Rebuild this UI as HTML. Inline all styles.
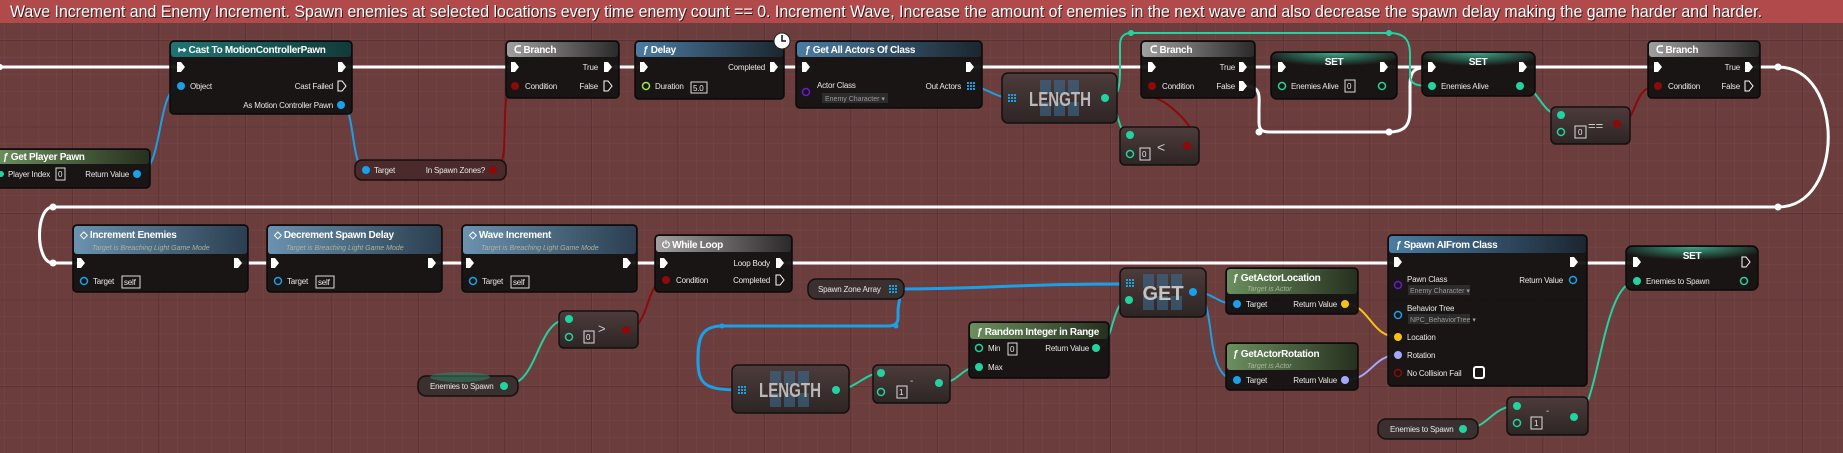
<!DOCTYPE html>
<html><head><meta charset="utf-8"><style>
html,body{margin:0;padding:0;background:#6b3d3d;overflow:hidden}
svg{display:block}
text{font-family:"Liberation Sans",sans-serif;fill:#e8e8e8}
.h{font-size:10px;font-weight:bold;fill:#fff;letter-spacing:-0.3px}
.l{font-size:8px;letter-spacing:-0.2px}
.s{font-size:7px;font-style:italic;fill:#a9b49a}
.r{text-anchor:end}
.b{fill:#151312;fill-opacity:.95;stroke:#0a0a0a;stroke-width:1.5}
.p{fill:url(#pure);stroke:#141010;stroke-width:1.5}
.bx{fill:none;stroke:#ddd;stroke-width:1}
.ex{fill:none;stroke:#fff;stroke-width:3}
.w{fill:none;stroke-width:2}
</style></head><body>
<svg width="1843" height="453" viewBox="0 0 1843 453" xmlns="http://www.w3.org/2000/svg">
<defs>
<pattern id="minor" width="17.3" height="17.3" patternUnits="userSpaceOnUse" x="4" y="5">
<path d="M0 0H17.3M0 0V17.3" stroke="#774848" stroke-width="1" fill="none"/></pattern>
<pattern id="major" width="86.5" height="86.5" patternUnits="userSpaceOnUse" x="72" y="40">
<path d="M0 0H86.5M0 0V86.5" stroke="#583030" stroke-width="1.5" fill="none"/></pattern>
<linearGradient id="gBlue"><stop offset="0" stop-color="#4b7ca3"/><stop offset="1" stop-color="#1b2630"/></linearGradient>
<linearGradient id="gGreen"><stop offset="0" stop-color="#6b8f5e"/><stop offset="1" stop-color="#26301f"/></linearGradient>
<linearGradient id="gGrey"><stop offset="0" stop-color="#a0a0a0"/><stop offset="1" stop-color="#2a2a2a"/></linearGradient>
<linearGradient id="gTeal"><stop offset="0" stop-color="#1f7474"/><stop offset="1" stop-color="#123a3a"/></linearGradient>
<linearGradient id="gEvent"><stop offset="0" stop-color="#6b92b0"/><stop offset="1" stop-color="#2b3f50"/></linearGradient>
<linearGradient id="pure" x1="0" y1="0" x2="0" y2="1"><stop offset="0" stop-color="#4d3c3b"/><stop offset="1" stop-color="#2d2524"/></linearGradient>
<radialGradient id="glow" cx=".5" cy="0" r=".6"><stop offset="0" stop-color="#3aa585"/><stop offset="1" stop-color="#3aa585" stop-opacity="0"/></radialGradient>
<path id="ex" d="M-4,-5h4l4,5l-4,5h-4z" fill="#fff"/>
<path id="exh" d="M-4,-5h4l4,5l-4,5h-4z" fill="none" stroke="#fff" stroke-width="1"/>
<g id="grid" fill="#1a9fe0"><rect x="-3" y="-4" width="2" height="2"/><rect x="0" y="-4" width="2" height="2"/><rect x="3" y="-4" width="2" height="2"/><rect x="-3" y="-1" width="2" height="2"/><rect x="0" y="-1" width="2" height="2"/><rect x="3" y="-1" width="2" height="2"/><rect x="-3" y="2" width="2" height="2"/><rect x="0" y="2" width="2" height="2"/><rect x="3" y="2" width="2" height="2"/></g>
<g id="bg" fill="#3d6f96" fill-opacity=".55"><rect x="-20" y="-18" width="11" height="14"/><rect x="-6" y="-18" width="11" height="14"/><rect x="8" y="-18" width="11" height="14"/><rect x="-20" y="4" width="11" height="14"/><rect x="-6" y="4" width="11" height="14"/><rect x="8" y="4" width="11" height="14"/></g>
</defs>
<rect width="1843" height="453" fill="#6b3d3d"/>
<rect width="1843" height="453" fill="url(#minor)"/>
<rect width="1843" height="453" fill="url(#major)"/>
<rect width="1843" height="23" fill="#b14b4b"/>
<text x="11" y="18" style="font-size:17px;fill:#3a1a1a" textLength="1752" lengthAdjust="spacingAndGlyphs">Wave Increment and Enemy Increment. Spawn enemies at selected locations every time enemy count == 0. Increment Wave, Increase the amount of enemies in the next wave and also decrease the spawn delay making the game harder and harder.</text>
<text x="10" y="17" style="font-size:17px;fill:#fff" textLength="1752" lengthAdjust="spacingAndGlyphs">Wave Increment and Enemy Increment. Spawn enemies at selected locations every time enemy count == 0. Increment Wave, Increase the amount of enemies in the next wave and also decrease the spawn delay making the game harder and harder.</text>

<g class="ex">
<path d="M0,67H181M342,67H515M608,67H644M774,67H806M970,67H1152M1243,67H1282M1384,67H1432M1523,67H1658"/>
<path d="M1749,67H1778C1845,67 1845,207 1778,207H53C35,207 35,263 53,263H81"/>
<path d="M1243,86C1262,86 1259,95 1259,110V122C1259,130 1262,132 1270,132H1389C1405,132 1410,125 1410,110V85C1410,70 1415,67 1432,67"/>
<path d="M238,263H275M432,263H470M627,263H664M780,263H1398M1574,263H1637"/>
</g>
<g fill="#fff"><circle cx="0" cy="67" r="3"/><circle cx="1778" cy="67" r="3.5"/><circle cx="1778" cy="207" r="3.5"/><circle cx="53" cy="207" r="3.5"/><circle cx="53" cy="263" r="3.5"/><circle cx="1259" cy="132" r="3.5"/><circle cx="1389" cy="132" r="3.5"/></g>
<g class="w" stroke="#1aa0e8">
<path d="M137,174C165,174 155,86 181,86"/><path d="M341,105C356,105 350,170 366,170"/>
<path d="M970,86C985,86 995,98 1011,98"/>
<path d="M892,289C1000,289 1000,284 1129,284" stroke-width="3"/>
<path d="M892,289C905,289 898,300 898,312V318C898,324 894,326 888,326H722C700,326 698,340 698,360C698,385 705,390 741,390" stroke-width="3"/>
<path d="M1193,292C1215,292 1215,304 1237,304"/><path d="M1193,292C1220,292 1200,380 1237,380"/>
</g>
<g class="w" stroke="#8c0a0a">
<path d="M493,170C515,170 495,86 515,86"/><path d="M1187,146C1210,146 1180,110 1160,100C1140,92 1140,86 1152,86"/>
<path d="M1617,124C1640,124 1630,86 1658,86"/><path d="M626,330C650,330 645,280 666,280"/>
</g>
<g class="w" stroke="#22d3a0">
<path d="M1105,98C1118,98 1120,90 1120,70V45C1120,36 1125,33 1131,33H1389C1405,33 1410,40 1410,55V75C1410,84 1415,86 1432,86"/>
<path d="M1105,98C1120,98 1115,135 1130,135"/><path d="M1520,86C1540,86 1540,115 1561,115"/>
<path d="M504,386C540,386 535,319 569,319"/><path d="M836,390C855,390 865,373 881,373"/>
<path d="M939,383C960,383 960,367 979,367"/><path d="M1096,348C1115,348 1110,300 1129,300"/>
<path d="M1574,417C1600,417 1600,281 1637,281"/><path d="M1463,429C1490,429 1490,406 1517,406"/>
</g>
<g fill="#22d3a0"><circle cx="1131" cy="33" r="3"/><circle cx="1389" cy="33" r="3"/></g>
<g fill="#1aa0e8"><circle cx="896" cy="326" r="2.5"/><circle cx="722" cy="326" r="2.5"/></g>
<path class="w" stroke="#f5c21a" d="M1345,304C1370,304 1370,337 1398,337"/>
<path class="w" stroke="#a3a8ff" d="M1345,380C1372,380 1372,355 1398,355"/>

<rect class="b" x="170" y="41" width="182" height="73" rx="4"/><rect x="171" y="42" width="180" height="15" rx="3" fill="url(#gTeal)"/>
<text class="h" x="178" y="53">↦ Cast To MotionControllerPawn</text>
<use href="#ex" x="181" y="67"/><use href="#ex" x="342" y="67"/>
<circle cx="181" cy="86" r="4" fill="#1aa0e8"/><text class="l" x="190" y="89">Object</text>
<text class="l r" x="333" y="89">Cast Failed</text><use href="#exh" x="342" y="86"/>
<text class="l r" x="333" y="108">As Motion Controller Pawn</text><circle cx="341" cy="105" r="4" fill="#1aa0e8"/>

<rect class="b" x="-4" y="149" width="154" height="39" rx="4"/><rect x="-3" y="150" width="152" height="14" rx="3" fill="url(#gGreen)"/>
<text class="h" x="3" y="160">ƒ Get Player Pawn</text>
<circle cx="1" cy="174" r="3" fill="#22d3a0"/><text class="l" x="8" y="177">Player Index</text>
<rect class="bx" x="56" y="168" width="9" height="12"/><text class="l" x="58" y="177">0</text>
<text class="l r" x="129" y="177">Return Value</text><circle cx="137" cy="174" r="4" fill="#1aa0e8"/>

<rect x="355" y="160" width="151" height="20" rx="7" fill="#4a2a2a" stroke="#1a0e0e" stroke-width="1.5"/>
<circle cx="366" cy="170" r="4" fill="#1aa0e8"/><text class="l" x="374" y="173">Target</text>
<text class="l r" x="485" y="173">In Spawn Zones?</text><circle cx="493" cy="170" r="4" fill="#8c0a0a"/>

<rect class="b" x="506" y="41" width="113" height="57" rx="4"/><rect x="507" y="42" width="111" height="15" rx="3" fill="url(#gGrey)"/>
<text class="h" x="514" y="53">ᑕ Branch</text>
<use href="#ex" x="515" y="67"/><text class="l r" x="598" y="70">True</text><use href="#ex" x="608" y="67"/>
<circle cx="515" cy="86" r="4" fill="#8c0a0a"/><text class="l" x="525" y="89">Condition</text>
<text class="l r" x="598" y="89">False</text><use href="#exh" x="608" y="86"/>

<rect class="b" x="635" y="41" width="149" height="58" rx="4"/><rect x="636" y="42" width="147" height="15" rx="3" fill="url(#gBlue)"/>
<text class="h" x="643" y="53">ƒ Delay</text>
<use href="#ex" x="644" y="67"/><text class="l r" x="765" y="70">Completed</text><use href="#ex" x="774" y="67"/>
<circle cx="646" cy="86" r="3.5" fill="none" stroke="#9ee84a" stroke-width="1.5"/><text class="l" x="655" y="89">Duration</text>
<rect class="bx" x="691" y="82" width="16" height="11"/><text class="l" x="693" y="91">5.0</text>
<circle cx="782" cy="41" r="8" fill="#fff" stroke="#222"/><path d="M782,35V41H786" stroke="#111" stroke-width="1.5" fill="none"/>

<rect class="b" x="796" y="41" width="186" height="67" rx="4"/><rect x="797" y="42" width="184" height="15" rx="3" fill="url(#gBlue)"/>
<text class="h" x="805" y="53">ƒ Get All Actors Of Class</text>
<use href="#ex" x="806" y="67"/><use href="#ex" x="970" y="67"/>
<circle cx="806" cy="92" r="3.5" fill="none" stroke="#6a1ad0" stroke-width="1.5"/><text class="l" x="817" y="88">Actor Class</text>
<rect x="822" y="93" width="66" height="10" fill="#2c2c2c"/><text x="825" y="101" style="font-size:7px;fill:#999">Enemy Character ▾</text>
<text class="l r" x="961" y="89">Out Actors</text><use href="#grid" x="970" y="86"/>

<rect class="p" x="1002" y="73" width="115" height="50" rx="6"/><use href="#bg" x="1060" y="98"/>
<text x="1060" y="106" text-anchor="middle" style="font-size:20px;font-weight:bold;fill:#b9b9b9" textLength="62" lengthAdjust="spacingAndGlyphs">LENGTH</text>
<use href="#grid" x="1011" y="98"/><circle cx="1105" cy="98" r="4" fill="#22d3a0"/>

<rect class="p" x="1120" y="127" width="79" height="38" rx="5"/>
<circle cx="1130" cy="135" r="4" fill="#22d3a0"/><circle cx="1130" cy="154" r="3.5" fill="none" stroke="#22d3a0" stroke-width="1.5"/>
<rect class="bx" x="1140" y="148" width="10" height="12"/><text class="l" x="1142" y="157">0</text>
<text x="1157" y="152" style="font-size:14px;fill:#ccc">&lt;</text><circle cx="1187" cy="146" r="4" fill="#8c0a0a"/>

<rect class="b" x="1141" y="41" width="114" height="57" rx="4"/><rect x="1142" y="42" width="112" height="15" rx="3" fill="url(#gGrey)"/>
<text class="h" x="1150" y="53">ᑕ Branch</text>
<use href="#ex" x="1152" y="67"/><text class="l r" x="1235" y="70">True</text><use href="#ex" x="1243" y="67"/>
<circle cx="1152" cy="86" r="4" fill="#8c0a0a"/><text class="l" x="1162" y="89">Condition</text>
<text class="l r" x="1235" y="89">False</text><use href="#ex" x="1243" y="86"/>

<rect class="b" x="1271" y="52" width="126" height="47" rx="6"/><rect x="1272" y="53" width="124" height="22" rx="5" fill="url(#glow)"/>
<text class="h" x="1334" y="65" text-anchor="middle">SET</text>
<use href="#ex" x="1282" y="67"/><use href="#ex" x="1384" y="67"/>
<circle cx="1282" cy="86" r="3.5" fill="none" stroke="#22d3a0" stroke-width="1.5"/><text class="l" x="1291" y="89">Enemies Alive</text>
<rect class="bx" x="1345" y="80" width="10" height="12"/><text class="l" x="1347" y="89">0</text>
<circle cx="1382" cy="86" r="3.5" fill="none" stroke="#22d3a0" stroke-width="1.5"/>

<rect class="b" x="1422" y="52" width="113" height="44" rx="6"/><rect x="1423" y="53" width="111" height="22" rx="5" fill="url(#glow)"/>
<text class="h" x="1478" y="65" text-anchor="middle">SET</text>
<use href="#ex" x="1432" y="67"/><use href="#ex" x="1523" y="67"/>
<circle cx="1432" cy="86" r="4" fill="#22d3a0"/><text class="l" x="1441" y="89">Enemies Alive</text><circle cx="1520" cy="86" r="4" fill="#22d3a0"/>

<rect class="p" x="1551" y="107" width="79" height="37" rx="5"/>
<circle cx="1561" cy="115" r="4" fill="#22d3a0"/><circle cx="1561" cy="132" r="3.5" fill="none" stroke="#22d3a0" stroke-width="1.5"/>
<rect class="bx" x="1575" y="126" width="11" height="12"/><text class="l" x="1578" y="135">0</text>
<text x="1588" y="130" style="font-size:13px;fill:#ccc">==</text><circle cx="1617" cy="124" r="4" fill="#8c0a0a"/>

<rect class="b" x="1648" y="41" width="112" height="57" rx="4"/><rect x="1649" y="42" width="110" height="15" rx="3" fill="url(#gGrey)"/>
<text class="h" x="1656" y="53">ᑕ Branch</text>
<use href="#ex" x="1658" y="67"/><text class="l r" x="1740" y="70">True</text><use href="#ex" x="1749" y="67"/>
<circle cx="1658" cy="86" r="4" fill="#8c0a0a"/><text class="l" x="1668" y="89">Condition</text>
<text class="l r" x="1740" y="89">False</text><use href="#exh" x="1749" y="86"/>

<rect class="b" x="73" y="225" width="175" height="67" rx="4"/><rect x="74" y="226" width="173" height="28" rx="3" fill="url(#gEvent)"/>
<text class="h" x="80" y="238">◇ Increment Enemies</text><text class="s" x="92" y="250">Target is Breaching Light Game Mode</text>
<use href="#ex" x="81" y="263"/><use href="#ex" x="238" y="263"/>
<circle cx="84" cy="281" r="3.5" fill="none" stroke="#1aa0e8" stroke-width="1.5"/><text class="l" x="93" y="284">Target</text>
<rect class="bx" x="122" y="276" width="18" height="12"/><text class="l" x="124" y="285">self</text>

<rect class="b" x="267" y="225" width="175" height="67" rx="4"/><rect x="268" y="226" width="173" height="28" rx="3" fill="url(#gEvent)"/>
<text class="h" x="274" y="238">◇ Decrement Spawn Delay</text><text class="s" x="286" y="250">Target is Breaching Light Game Mode</text>
<use href="#ex" x="275" y="263"/><use href="#ex" x="432" y="263"/>
<circle cx="278" cy="281" r="3.5" fill="none" stroke="#1aa0e8" stroke-width="1.5"/><text class="l" x="287" y="284">Target</text>
<rect class="bx" x="316" y="276" width="18" height="12"/><text class="l" x="318" y="285">self</text>

<rect class="b" x="462" y="225" width="175" height="67" rx="4"/><rect x="463" y="226" width="173" height="28" rx="3" fill="url(#gEvent)"/>
<text class="h" x="469" y="238">◇ Wave Increment</text><text class="s" x="481" y="250">Target is Breaching Light Game Mode</text>
<use href="#ex" x="470" y="263"/><use href="#ex" x="627" y="263"/>
<circle cx="473" cy="281" r="3.5" fill="none" stroke="#1aa0e8" stroke-width="1.5"/><text class="l" x="482" y="284">Target</text>
<rect class="bx" x="511" y="276" width="18" height="12"/><text class="l" x="513" y="285">self</text>

<rect class="b" x="655" y="235" width="137" height="57" rx="4"/><rect x="656" y="236" width="135" height="16" rx="3" fill="url(#gGrey)"/>
<text class="h" x="662" y="248">⏻ While Loop</text>
<use href="#ex" x="664" y="263"/><text class="l r" x="770" y="266">Loop Body</text><use href="#ex" x="780" y="263"/>
<circle cx="666" cy="280" r="4" fill="#8c0a0a"/><text class="l" x="676" y="283">Condition</text>
<text class="l r" x="770" y="283">Completed</text><use href="#exh" x="780" y="280"/>

<rect x="808" y="279" width="96" height="20" rx="8" fill="#3b3030" stroke="#141010" stroke-width="1.5"/>
<text class="l" x="818" y="292">Spawn Zone Array</text><use href="#grid" x="892" y="289"/>

<rect class="p" x="559" y="311" width="79" height="37" rx="5"/>
<circle cx="569" cy="319" r="4" fill="#22d3a0"/><circle cx="569" cy="337" r="3.5" fill="none" stroke="#22d3a0" stroke-width="1.5"/>
<rect class="bx" x="584" y="331" width="10" height="12"/><text class="l" x="586" y="340">0</text>
<text x="598" y="333" style="font-size:13px;fill:#ccc">&gt;</text><circle cx="626" cy="330" r="4" fill="#8c0a0a"/>

<rect x="418" y="376" width="100" height="20" rx="8" fill="#3b3030" stroke="#141010" stroke-width="1.5"/>
<ellipse cx="460" cy="377" rx="30" ry="5" fill="#2e8a6c" fill-opacity=".5"/>
<text class="l" x="430" y="389">Enemies to Spawn</text><circle cx="504" cy="386" r="4" fill="#22d3a0"/>

<rect class="p" x="732" y="365" width="117" height="48" rx="6"/><use href="#bg" x="790" y="389"/>
<text x="790" y="397" text-anchor="middle" style="font-size:20px;font-weight:bold;fill:#b9b9b9" textLength="62" lengthAdjust="spacingAndGlyphs">LENGTH</text>
<use href="#grid" x="741" y="390"/><circle cx="836" cy="390" r="4" fill="#22d3a0"/>

<rect class="p" x="873" y="365" width="77" height="38" rx="5"/>
<circle cx="881" cy="373" r="4" fill="#22d3a0"/><circle cx="881" cy="392" r="3.5" fill="none" stroke="#22d3a0" stroke-width="1.5"/>
<rect class="bx" x="897" y="386" width="10" height="12"/><text class="l" x="899" y="395">1</text>
<text x="910" y="384" style="font-size:10px;fill:#ccc">-</text><circle cx="939" cy="383" r="4" fill="#22d3a0"/>

<rect class="b" x="969" y="322" width="140" height="56" rx="4"/><rect x="970" y="323" width="138" height="16" rx="3" fill="url(#gGreen)"/>
<text class="h" x="977" y="335">ƒ Random Integer in Range</text>
<circle cx="979" cy="348" r="3.5" fill="none" stroke="#22d3a0" stroke-width="1.5"/><text class="l" x="988" y="351">Min</text>
<rect class="bx" x="1008" y="343" width="9" height="12"/><text class="l" x="1010" y="352">0</text>
<text class="l r" x="1089" y="351">Return Value</text><circle cx="1096" cy="348" r="4" fill="#22d3a0"/>
<circle cx="979" cy="367" r="4" fill="#22d3a0"/><text class="l" x="988" y="370">Max</text>

<rect class="p" x="1120" y="268" width="86" height="49" rx="6"/><use href="#bg" x="1163" y="292"/>
<text x="1163" y="300" text-anchor="middle" style="font-size:20px;font-weight:bold;fill:#c4c4c4">GET</text>
<use href="#grid" x="1129" y="283"/><circle cx="1129" cy="300" r="4" fill="#22d3a0"/><circle cx="1193" cy="292" r="4" fill="#1aa0e8"/>

<rect class="b" x="1226" y="268" width="132" height="46" rx="4"/><rect x="1227" y="269" width="130" height="25" rx="3" fill="url(#gGreen)"/>
<text class="h" x="1233" y="281">ƒ GetActorLocation</text><text class="s" x="1247" y="291">Target is Actor</text>
<circle cx="1237" cy="304" r="4" fill="#1aa0e8"/><text class="l" x="1246" y="307">Target</text>
<text class="l r" x="1337" y="307">Return Value</text><circle cx="1345" cy="304" r="4" fill="#f5c21a"/>

<rect class="b" x="1226" y="343" width="132" height="47" rx="4"/><rect x="1227" y="344" width="130" height="26" rx="3" fill="url(#gGreen)"/>
<text class="h" x="1233" y="357">ƒ GetActorRotation</text><text class="s" x="1247" y="368">Target is Actor</text>
<circle cx="1237" cy="380" r="4" fill="#1aa0e8"/><text class="l" x="1246" y="383">Target</text>
<text class="l r" x="1337" y="383">Return Value</text><circle cx="1345" cy="380" r="4" fill="#a3a8ff"/>

<rect class="b" x="1388" y="235" width="199" height="151" rx="4"/><rect x="1389" y="236" width="197" height="17" rx="3" fill="url(#gBlue)"/>
<text class="h" x="1396" y="248">ƒ Spawn AIFrom Class</text>
<use href="#ex" x="1398" y="262"/><use href="#ex" x="1574" y="262"/>
<circle cx="1398" cy="285" r="3.5" fill="none" stroke="#6a1ad0" stroke-width="1.5"/><text class="l" x="1407" y="282">Pawn Class</text>
<rect x="1408" y="285" width="62" height="10" fill="#2c2c2c"/><text x="1410" y="293" style="font-size:7px;fill:#999">Enemy Character ▾</text>
<text class="l r" x="1563" y="283">Return Value</text><circle cx="1573" cy="280" r="3.5" fill="none" stroke="#1aa0e8" stroke-width="1.5"/>
<circle cx="1398" cy="315" r="3.5" fill="none" stroke="#1aa0e8" stroke-width="1.5"/><text class="l" x="1407" y="311">Behavior Tree</text>
<rect x="1408" y="314" width="62" height="10" fill="#2c2c2c"/><text x="1410" y="322" style="font-size:7px;fill:#999">NPC_BehaviorTree ▾</text>
<circle cx="1398" cy="337" r="4" fill="#f5c21a"/><text class="l" x="1407" y="340">Location</text>
<circle cx="1398" cy="355" r="4" fill="#a3a8ff"/><text class="l" x="1407" y="358">Rotation</text>
<circle cx="1398" cy="373" r="3.5" fill="none" stroke="#8c0a0a" stroke-width="1.5"/><text class="l" x="1407" y="376">No Collision Fail</text>
<rect x="1474" y="367" width="10" height="11" rx="2" fill="none" stroke="#fff" stroke-width="2"/>

<rect class="b" x="1626" y="246" width="132" height="44" rx="6"/><rect x="1627" y="247" width="130" height="22" rx="5" fill="url(#glow)"/>
<text class="h" x="1692" y="259" text-anchor="middle">SET</text>
<use href="#ex" x="1637" y="262"/><use href="#exh" x="1746" y="262"/>
<circle cx="1637" cy="281" r="4" fill="#22d3a0"/><text class="l" x="1646" y="284">Enemies to Spawn</text>
<circle cx="1744" cy="281" r="3.5" fill="none" stroke="#22d3a0" stroke-width="1.5"/>

<rect x="1378" y="419" width="100" height="20" rx="8" fill="#3b3030" stroke="#141010" stroke-width="1.5"/>
<text class="l" x="1390" y="432">Enemies to Spawn</text><circle cx="1463" cy="429" r="4" fill="#22d3a0"/>

<rect class="p" x="1507" y="397" width="81" height="38" rx="5"/>
<circle cx="1517" cy="406" r="4" fill="#22d3a0"/><circle cx="1517" cy="423" r="3.5" fill="none" stroke="#22d3a0" stroke-width="1.5"/>
<rect class="bx" x="1531" y="417" width="11" height="12"/><text class="l" x="1534" y="426">1</text>
<text x="1546" y="414" style="font-size:10px;fill:#ccc">-</text><circle cx="1574" cy="417" r="4" fill="#22d3a0"/>
</svg>
</body></html>
